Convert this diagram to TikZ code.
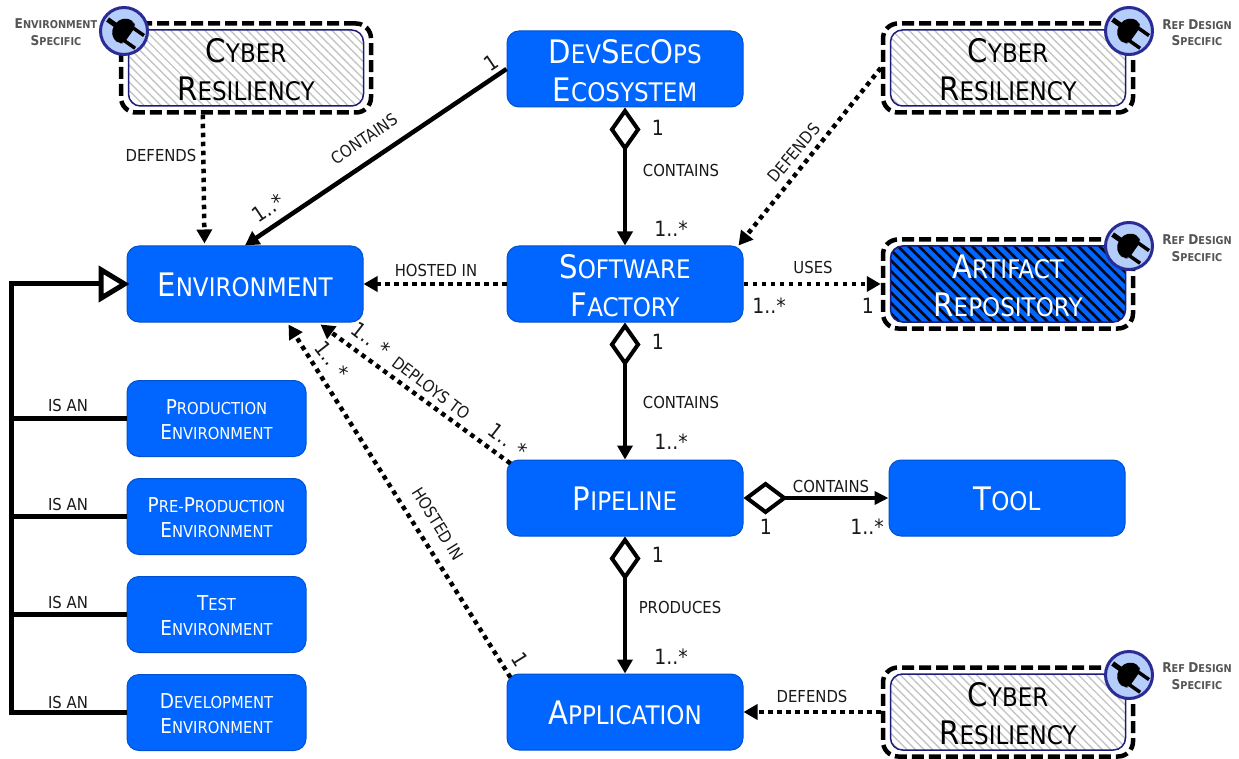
\documentclass[tikz,border=0pt]{standalone}
\usepackage{fontspec}
\setmainfont[FakeStretch=0.9]{DejaVu Sans}
\usetikzlibrary{arrows.meta,patterns.meta,calc}
\definecolor{boxblue}{HTML}{0066FF}
\definecolor{boxedge}{HTML}{0052CC}
\definecolor{navy}{HTML}{1B1B78}
\definecolor{badgefill}{HTML}{B5CDFA}
\definecolor{badgeedge}{HTML}{2B2B96}
\definecolor{hatchgrey}{HTML}{C4C4C4}
\definecolor{captxt}{HTML}{555555}
\newcommand\capsz{10}
\newcommand\smsz{10}
\newcommand\topgap{}
\newcommand\Sc[2]{{\fontsize{\capsz}{\capsz}\selectfont #1}{\fontsize{\smsz}{\smsz}\selectfont #2}}
\tikzset{
  x=1pt,y=-1pt,
  bluebox/.style={draw=boxedge,line width=1pt,fill=boxblue,rounded corners=12pt,text=white,align=center,inner xsep=0pt,inner ysep=-4pt,minimum height=76pt},
  big/.style={font=\renewcommand\capsz{32.4}\renewcommand\smsz{25.6}\renewcommand\topgap{\rule{0pt}{34pt}}\fontsize{25.6}{37.5}\selectfont,
    execute at end node={\rule[-7pt]{0pt}{39pt}}},
  small/.style={font=\renewcommand\capsz{20.5}\renewcommand\smsz{16.4}\renewcommand\topgap{\rule{0pt}{23pt}}\fontsize{16.4}{25}\selectfont,
    execute at end node={\rule[-6pt]{0pt}{29pt}}},
  wide/.style={minimum width=236pt},
  narrow/.style={minimum width=179pt},
  hatched/.style={draw=navy,line width=1.5pt,rounded corners=12pt,align=center,inner xsep=0pt,inner ysep=-4pt,minimum width=235pt,minimum height=76pt,pattern={Lines[angle=-45,distance=6pt,line width=1.4pt]},pattern color=hatchgrey},
  darkhatched/.style={draw=navy,line width=1.5pt,rounded corners=12pt,align=center,inner xsep=0pt,inner ysep=-4pt,minimum width=235pt,minimum height=76pt,text=white,preaction={fill=boxblue},pattern={Lines[angle=-45,distance=7.5pt,line width=2.6pt]},pattern color=black!85!navy},
  outerbox/.style={draw=black,line width=4.5pt,dash pattern=on 12pt off 5pt,rounded corners=15pt,minimum width=250pt,minimum height=89pt,inner sep=0pt},
  badge/.style={circle,draw=badgeedge,fill=badgefill,line width=3pt,minimum size=47pt,inner sep=0pt},
  lab/.style={font=\fontsize{16.5}{18}\selectfont,text=black!90,inner sep=0pt},
  num/.style={font=\fontsize{21}{22}\selectfont,text=black!90,inner sep=0pt},
  tag/.style={font=\bfseries\renewcommand\capsz{13.5}\renewcommand\smsz{10.8}\fontsize{10.8}{16.5}\selectfont,text=captxt,align=center,inner sep=0pt},
  solidarrow/.style={line width=4.5pt,-{Triangle[length=14pt,width=15pt]}},
  dotarrow/.style={line width=4.5pt,dash pattern=on 4.5pt off 4.5pt,-{Triangle[length=14pt,width=15pt]}},
  ownarrow/.style={line width=4.5pt,{Diamond[open,fill=white,length=44pt,width=31pt,line width=4pt]}-{Triangle[length=14pt,width=15pt]}},
  ownarrowh/.style={line width=4.5pt,{Diamond[open,fill=white,length=44pt,width=33pt,line width=4pt]}-{Triangle[length=14pt,width=13pt]}},
  genarrow/.style={line width=5pt,shorten >=-3pt,-{Triangle[open,fill=white,length=31pt,width=36pt,line width=5pt]}},
  genline/.style={line width=5pt},
  plugpic/.pic={
    \begin{scope}[rotate=-35]
      \fill[black,rounded corners=4pt] (-11,-6) -- (-11,6) -- (-4,13) -- (3,13) -- (7,10) -- (7,-10) -- (3,-13) -- (-4,-13) -- cycle;
      \fill[black] (-20,-2.5) rectangle (-8,2.5);
      \fill[black] (5,-9.5) rectangle (19,-6);
      \fill[black] (5,6) rectangle (19,9.5);
    \end{scope}
  },
}
\begin{document}
\begin{tikzpicture}
\useasboundingbox (0,0) rectangle (1239,759);
% main boxes
\node[bluebox,wide,big] (eco) at (625,69) {\topgap\Sc{D}{EV}\Sc{S}{EC}\Sc{O}{PS}\\\Sc{E}{COSYSTEM}};
\node[bluebox,wide,big] (sf) at (625,284) {\topgap\Sc{S}{OFTWARE}\\\Sc{F}{ACTORY}};
\node[bluebox,wide,big] (env) at (245,284) {\Sc{E}{NVIRONMENT}};
\node[bluebox,wide,big] (pipe) at (625,498) {\Sc{P}{IPELINE}};
\node[bluebox,wide,big] (tool) at (1007,498) {\Sc{T}{OOL}};
\node[bluebox,wide,big] (app) at (625,712) {\Sc{A}{PPLICATION}};
\node[bluebox,narrow,small] (prod) at (216.5,418.5) {\topgap\Sc{P}{RODUCTION}\\\Sc{E}{NVIRONMENT}};
\node[bluebox,narrow,small] (pre) at (216.5,516.5) {\topgap\Sc{P}{RE}-\Sc{P}{RODUCTION}\\\Sc{E}{NVIRONMENT}};
\node[bluebox,narrow,small] (test) at (216.5,614.5) {\topgap\Sc{T}{EST}\\\Sc{E}{NVIRONMENT}};
\node[bluebox,narrow,small] (dev) at (216.5,712.5) {\topgap\Sc{D}{EVELOPMENT}\\\Sc{E}{NVIRONMENT}};
% stereotyped boxes
\node[outerbox] (outa) at (246,68) {};
\node[hatched,big] (cyba) at (246,68) {\topgap\Sc{C}{YBER}\\\Sc{R}{ESILIENCY}};
\node[outerbox] (outb) at (1008,68) {};
\node[hatched,big] (cybb) at (1008,68) {\topgap\Sc{C}{YBER}\\\Sc{R}{ESILIENCY}};
\node[outerbox] (outc) at (1008,284) {};
\node[darkhatched,big] (art) at (1008,284) {\topgap\Sc{A}{RTIFACT}\\\Sc{R}{EPOSITORY}};
\node[outerbox] (outd) at (1008,712) {};
\node[hatched,big] (cybd) at (1008,712) {\topgap\Sc{C}{YBER}\\\Sc{R}{ESILIENCY}};
% badges
\node[badge] (bada) at (124,31) {}; \pic at (bada) {plugpic};
\node[badge] (badb) at (1129,31) {}; \pic at (badb) {plugpic};
\node[badge] (badc) at (1129,246) {}; \pic at (badc) {plugpic};
\node[badge] (badd) at (1129,675) {}; \pic at (badd) {plugpic};
\node[tag] (taga) at (56,32) {\Sc{E}{NVIRONMENT}\\\Sc{S}{PECIFIC}};
\node[tag] (tagb) at (1197,32.5) {\Sc{R}{EF} \Sc{D}{ESIGN}\\\Sc{S}{PECIFIC}};
\node[tag] (tagc) at (1197,248) {\Sc{R}{EF} \Sc{D}{ESIGN}\\\Sc{S}{PECIFIC}};
\node[tag] (tagd) at (1197,676) {\Sc{R}{EF} \Sc{D}{ESIGN}\\\Sc{S}{PECIFIC}};
% generalisation
\coordinate (bust) at (11,284);
\draw[genarrow] (dev.west) -- (dev.west -| bust) -- (bust) -- (env.west);
\draw[genline] (prod.west) -- (prod.west -| bust);
\draw[genline] (pre.west) -- (pre.west -| bust);
\draw[genline] (test.west) -- (test.west -| bust);
% connectors
\draw[solidarrow] (eco.west) -- (env.north);
\draw[ownarrow] (eco.south) -- (sf.north);
\draw[ownarrow] (sf.south) -- (pipe.north);
\draw[ownarrow] (pipe.south) -- (app.north);
\draw[ownarrowh] (pipe.east) -- (tool.west);
\draw[dotarrow] ($(outa.south west)+(84,0)$) -- ($(env.north west)+(78,-2)$);
\draw[dotarrow] (outb.west) -- ($(sf.north east)+(-5,0)$);
\draw[dotarrow] (sf.west) -- (env.east);
\draw[dotarrow] (sf.east) -- (outc.west);
\draw[dotarrow] ($(pipe.north west)+(4,4)$) -- ($(env.south east)+(-43,2)$);
\draw[dotarrow] ($(app.north west)+(4,4)$) -- ($(env.south east)+(-75,2)$);
\draw[dotarrow] (outd.west) -- (app.east);
% labels
\node[num,rotate=34] (l1) at (491,63) {1};
\node[lab,rotate=34] (l2) at (364,139) {CONTAINS};
\node[num,rotate=34] (l3) at (268,208) {1..*};
\node[num] (l4) at (658,128) {1};
\node[lab] (l5) at (681,170) {CONTAINS};
\node[num] (l6) at (671,229) {1..*};
\node[lab,rotate=50] (l7) at (794,153) {DEFENDS};
\node[lab] (l8) at (161,155) {DEFENDS};
\node[lab] (l9) at (436,270) {HOSTED IN};
\node[lab] (l10) at (813,267) {USES};
\node[num] (l11) at (769,306) {1..*};
\node[num] (l12) at (868,306) {1};
\node[num] (l13) at (658,342) {1};
\node[lab] (l14) at (681,402) {CONTAINS};
\node[num] (l15) at (671,442) {1..*};
\node[num,rotate=-38] (l16) at (371,339) {1.. *};
\node[lab,rotate=-37] (l17) at (431,388) {DEPLOYS TO};
\node[num,rotate=-38] (l18) at (508,440) {1.. *};
\node[num,rotate=-52] (l19) at (332,360) {1.. *};
\node[lab,rotate=-58] (l20) at (438,524) {HOSTED IN};
\node[num,rotate=-58] (l21) at (520,660) {1};
\node[lab] (l22) at (831,486) {CONTAINS};
\node[num] (l23) at (766,527) {1};
\node[num] (l24) at (867,527) {1..*};
\node[num] (l25) at (658,555) {1};
\node[lab] (l26) at (680,607) {PRODUCES};
\node[num] (l27) at (671,657) {1..*};
\node[lab] (l28) at (812,696) {DEFENDS};
\node[lab] (l29) at (68,405) {IS AN};
\node[lab] (l30) at (68,504) {IS AN};
\node[lab] (l31) at (68,602) {IS AN};
\node[lab] (l32) at (68,702) {IS AN};
\end{tikzpicture}
\end{document}
